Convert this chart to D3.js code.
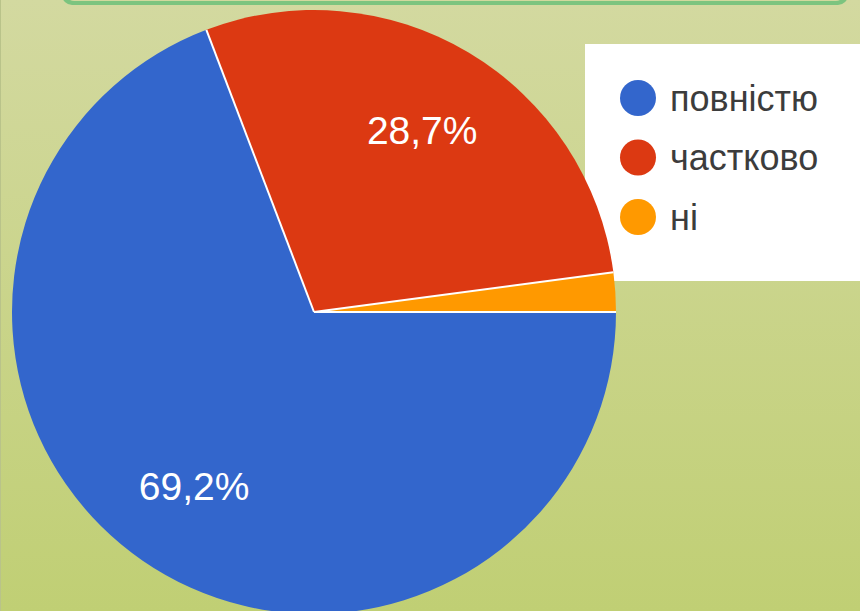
<!DOCTYPE html>
<html lang="uk">
<head>
<meta charset="utf-8">
<title>Pie</title>
<script src="https://cdn.jsdelivr.net/npm/d3@7"></script>
<style>
  html, body { margin: 0; padding: 0; }
  body { width: 860px; height: 611px; overflow: hidden; font-family: "Liberation Sans", Arial, sans-serif; }
</style>
</head>
<body>
<script>
// chart data
const categories = ["повністю", "частково", "ні"];
const values = [69.2, 28.7, 2.1];
const colors = ["#3366cc", "#dc3912", "#ff9900"];

const w = 860, h = 611;
const cx = 314, cy = 312, r = 302;

const svg = d3.select("body").append("svg")
    .attr("width", w)
    .attr("height", h);

// background gradient
const defs = svg.append("defs");
const grad = defs.append("linearGradient")
    .attr("id", "bg")
    .attr("x1", 0).attr("y1", 0).attr("x2", 0).attr("y2", 1);
grad.append("stop").attr("offset", "0%").attr("stop-color", "#d3d9a0");
grad.append("stop").attr("offset", "100%").attr("stop-color", "#c0cf74");

svg.append("rect")
    .attr("width", w).attr("height", h)
    .attr("fill", "url(#bg)");

svg.append("rect")
    .attr("x", 0).attr("y", 0)
    .attr("width", 1).attr("height", h)
    .attr("fill", "#b9c38a");

// green bar at the top
svg.append("rect")
    .attr("x", 62).attr("y", -20)
    .attr("width", 786).attr("height", 25)
    .attr("rx", 10)
    .attr("fill", "#7cc47f");
svg.append("rect")
    .attr("x", 66).attr("y", -20)
    .attr("width", 778).attr("height", 21)
    .attr("rx", 8)
    .attr("fill", "#d1d99e");

// legend box
svg.append("rect")
    .attr("x", 585).attr("y", 44)
    .attr("width", 280).attr("height", 237)
    .attr("fill", "#ffffff");

const legend = svg.append("g");
const ly = d3.scalePoint().domain(categories).range([98, 217]);

legend.selectAll("circle")
    .data(categories)
    .enter()
    .append("circle")
    .attr("cx", 638)
    .attr("cy", d => ly(d))
    .attr("r", 18)
    .attr("fill", (d, i) => colors[i]);

legend.selectAll("text")
    .data(categories)
    .enter()
    .append("text")
    .attr("x", 670)
    .attr("y", d => ly(d))
    .attr("dy", "0.35em")
    .attr("font-size", "36px")
    .attr("fill", "#3c3c3c")
    .text(d => d);

// pie
const pie = d3.pie()
    .sort(null)
    .startAngle(Math.PI / 2)
    .endAngle(Math.PI / 2 + 2 * Math.PI)
    .value(d => d);

const arcs = pie(values);
const arc = d3.arc().innerRadius(0).outerRadius(r);
const labelArc = d3.arc().innerRadius(r * 0.7).outerRadius(r * 0.7);

const g = svg.append("g").attr("transform", "translate(" + cx + "," + cy + ")");

g.selectAll("path")
    .data(arcs)
    .enter()
    .append("path")
    .attr("d", arc)
    .attr("fill", (d, i) => colors[i]);

// white separators between slices only
g.selectAll("line")
    .data(arcs)
    .enter()
    .append("line")
    .attr("x1", 0).attr("y1", 0)
    .attr("x2", d => r * Math.sin(d.startAngle))
    .attr("y2", d => -r * Math.cos(d.startAngle))
    .attr("stroke", "#ffffff")
    .attr("stroke-width", 2);

g.selectAll("text")
    .data(arcs.filter(d => d.value > 5))
    .enter()
    .append("text")
    .attr("transform", d => "translate(" + labelArc.centroid(d) + ")")
    .attr("text-anchor", "middle")
    .attr("dy", "0.35em")
    .attr("font-size", "39px")
    .attr("fill", "#ffffff")
    .text(d => String(d.value).replace(".", ",") + "%");
</script>
</body>
</html>
